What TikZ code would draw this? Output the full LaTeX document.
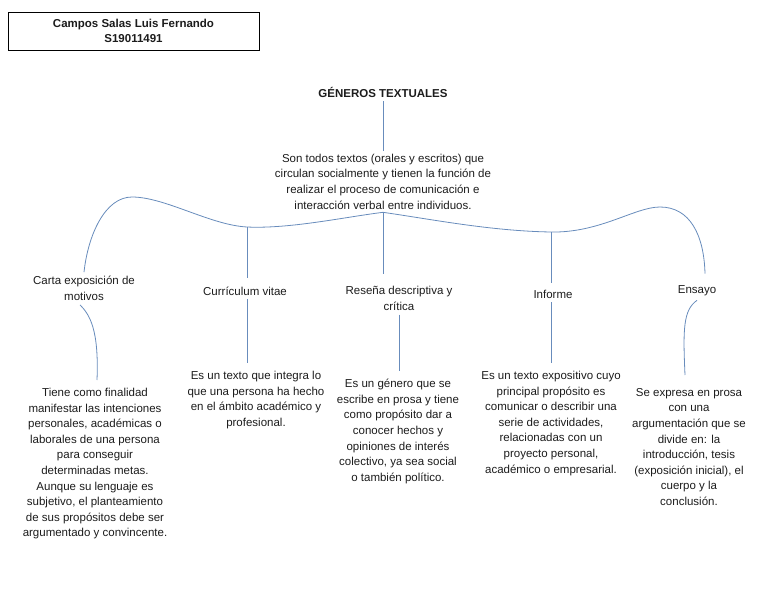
\documentclass[tikz,border=0pt]{standalone}
\usepackage{fontspec}
\setmainfont{Liberation Sans}
\definecolor{linkblue}{RGB}{104,140,188}
\definecolor{txtgray}{RGB}{28,28,28}
\newcommand{\mapfont}{\fontsize{11.5}{15.6}\selectfont}
\tikzset{
  link/.style={draw=linkblue, line width=0.8pt},
  genre/.style={align=center, inner sep=4pt, font=\mapfont},
  desc/.style={align=center, anchor=north, inner xsep=0pt, inner ysep=8pt, font=\mapfont}
}
\begin{document}
\begin{tikzpicture}[x=1pt,y=-1pt,text=txtgray]
\useasboundingbox (0,0) rectangle (768,594);
% cabecera
\node[draw=black, line width=0.8pt, minimum width=251pt, minimum height=38pt,
      align=center, font=\mapfont\bfseries] (alumno) at (133.5,31)
      {Campos Salas Luis Fernando\\S19011491};
% tema central
\node[genre, font=\mapfont\bfseries] (titulo) at (383,92) {GÉNEROS TEXTUALES};
\node[genre, inner sep=3pt] (def) at (383,181.5)
      {Son todos textos (orales y escritos) que\\circulan socialmente y tienen la función de\\realizar el proceso de comunicación e\\interacción verbal entre individuos.};
\coordinate (jc) at (247,227);
\coordinate (ji) at (551,232);
% generos
\node[genre] (carta)   at (84,288.5)  {Carta exposición de\\motivos};
\node[genre] (curri)   at (245,291)   {Currículum vitae};
\node[genre] (resena)  at (399,298.5) {Reseña descriptiva y\\crítica};
\node[genre] (informe) at (553,294)   {Informe};
\node[genre] (ensayo)  at (697,291)   {Ensayo};
% descripciones
\node[desc] (cartad) at (95,380)
      {Tiene como finalidad\\manifestar las intenciones\\personales, académicas o\\laborales de una persona\\para conseguir\\determinadas metas.\\Aunque su lenguaje es\\subjetivo, el planteamiento\\de sus propósitos debe ser\\argumentado y convincente.};
\node[desc] (currid) at (256,363)
      {Es un texto que integra lo\\que una persona ha hecho\\en el ámbito académico y\\profesional.};
\node[desc] (resenad) at (398,371)
      {Es un género que se\\escribe en prosa y tiene\\como propósito dar a\\conocer hechos y\\opiniones de interés\\colectivo, ya sea social\\o también político.};
\node[desc] (informed) at (551,363)
      {Es un texto expositivo cuyo\\principal propósito es\\comunicar o describir una\\serie de actividades,\\relacionadas con un\\proyecto personal,\\académico o empresarial.};
\node[desc] (ensayod) at (689,380)
      {Se expresa en prosa\\con una\\argumentación que se\\divide en: la\\introducción, tesis\\(exposición inicial), el\\cuerpo y la\\conclusión.};
% conectores
\draw[link] (titulo) -- (def);
\draw[link] (carta.north) .. controls (88,235) and (105,197) .. (132,197)
            .. controls (165,197) and (210,225) .. (jc)
            .. controls (290,229) and (345,217) .. (def.south)
            .. controls (430,219) and (490,231) .. (ji)
            .. controls (600,233) and (635,207) .. (660,207)
            .. controls (690,207) and (704,235) .. ([xshift=8pt,yshift=8pt]ensayo.north);
\draw[link, shorten >=8pt] (def.south) -- (def.south |- resena.north);
\draw[link, shorten >=5pt] (jc) -- (jc |- curri.north);
\draw[link, shorten >=3pt] (ji) -- (ji |- informe.north);
\draw[link] ([xshift=-4pt]carta.south) .. controls (90,315) and (99,330) .. ([xshift=2pt]cartad.north);
\draw[link] (jc |- curri.south) -- (jc |- currid.north);
\draw[link] (resena.south) -- (resena.south |- resenad.north);
\draw[link] (ji |- informe.south) -- (ji |- informed.north);
\draw[link] (ensayo.south) .. controls (683,310) and (683,330) .. ([xshift=-4pt,yshift=5pt]ensayod.north);
\end{tikzpicture}
\end{document}
